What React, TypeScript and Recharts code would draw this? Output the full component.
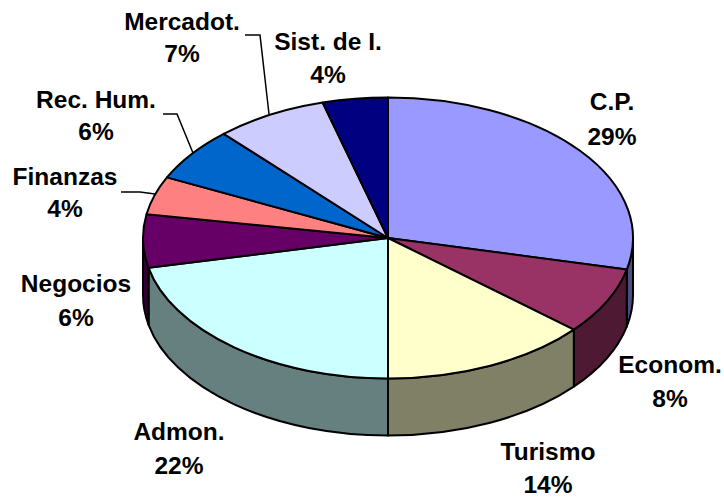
import { PieChart, Pie } from "recharts"

const categories = ["C.P.", "Econom.", "Turismo", "Admon.", "Negocios", "Finanzas", "Rec. Hum.", "Mercadot.", "Sist. de I."]
const values = [28.6, 7.7, 13.7, 21.6, 6.1, 4.4, 6.2, 7.4, 4.3]
const topColors = ["#9999FF", "#993366", "#FFFFCC", "#CCFFFF", "#660066", "#FF8080", "#0066CC", "#CCCCFF", "#000080"]
const sideColors = ["#4D4D80", "#4D1933", "#808066", "#668080", "#330033", "#804040", "#003366", "#666680", "#000040"]

const data = categories.map((name, i) => ({ name, value: values[i], fill: topColors[i] }))
const sideData = categories.map((name, i) => ({ name, value: values[i], fill: sideColors[i] }))
const total = values.reduce((a, b) => a + b, 0)

// label placement: centre x, baselines of both lines, optional leader line
const labelSpots = [
  { x: 612, y1: 110, y2: 145 },
  { x: 670, y1: 373, y2: 407 },
  { x: 548, y1: 460, y2: 493 },
  { x: 179, y1: 440, y2: 474 },
  { x: 76, y1: 292, y2: 326 },
  { x: 65, y1: 185, y2: 217, leader: "121,192 140,192 155,194" },
  { x: 96, y1: 108, y2: 140, leader: "163,114 177,114 193,153" },
  { x: 182, y1: 30, y2: 62, leader: "245,35 260,35 269,114" },
  { x: 328, y1: 50, y2: 83 },
]

const CX = 388
const CY = 238
const RX = 245
const RY = 140.5
const DEPTH = 57
const RAD = Math.PI / 180

const px = (cx: number, a: number) => cx + RX * Math.cos(a * RAD)
const py = (cy: number, a: number) => cy - RY * Math.sin(a * RAD)

function TopSlice(props: any) {
  const { cx, cy, startAngle, endAngle, fill } = props
  const large = startAngle - endAngle > 180 ? 1 : 0
  const d = `M${cx},${cy} L${px(cx, startAngle)},${py(cy, startAngle)} A${RX},${RY} 0 ${large} 1 ${px(cx, endAngle)},${py(cy, endAngle)} Z`
  return <path d={d} fill={fill} stroke="#000" strokeWidth={2} strokeLinejoin="round" />
}

// only the front half of the rim shows
function SideSlice(props: any) {
  const { cx, cy, fill } = props
  const a = Math.min(props.startAngle, 0)
  const b = Math.max(props.endAngle, -180)
  if (a <= b) return null
  const d =
    `M${px(cx, a)},${py(cy, a)} A${RX},${RY} 0 0 1 ${px(cx, b)},${py(cy, b)} ` +
    `L${px(cx, b)},${py(cy, b) + DEPTH} A${RX},${RY} 0 0 0 ${px(cx, a)},${py(cy, a) + DEPTH} Z`
  return <path d={d} fill={fill} stroke="#000" strokeWidth={2} strokeLinejoin="round" />
}

function SliceLabel({ index }: any) {
  const spot = labelSpots[index]
  const pct = Math.round((values[index] / total) * 100)
  const textStyle = { fontFamily: "'Liberation Sans', Arial, sans-serif", fontWeight: 700, fontSize: 24.5 }
  return (
    <g>
      {spot.leader && <polyline points={spot.leader} fill="none" stroke="#000" strokeWidth={1.5} />}
      <text x={spot.x} y={spot.y1} textAnchor="middle" fill="#000" style={textStyle}>
        {categories[index]}
      </text>
      <text x={spot.x} y={spot.y2} textAnchor="middle" fill="#000" style={textStyle}>
        {pct}%
      </text>
    </g>
  )
}

export default function App() {
  return (
    <div style={{ position: "absolute", left: 0, top: 0, background: "#fff" }}>
      <PieChart width={724} height={498} margin={{ top: 0, right: 0, bottom: 0, left: 0 }}>
        <Pie
          data={sideData}
          dataKey="value"
          cx={CX}
          cy={CY}
          outerRadius={RX}
          startAngle={90}
          endAngle={-270}
          shape={SideSlice}
          label={false}
          labelLine={false}
          isAnimationActive={false}
        />
        <Pie
          data={data}
          dataKey="value"
          cx={CX}
          cy={CY}
          outerRadius={RX}
          startAngle={90}
          endAngle={-270}
          shape={TopSlice}
          label={SliceLabel}
          labelLine={false}
          isAnimationActive={false}
        />
      </PieChart>
    </div>
  )
}
